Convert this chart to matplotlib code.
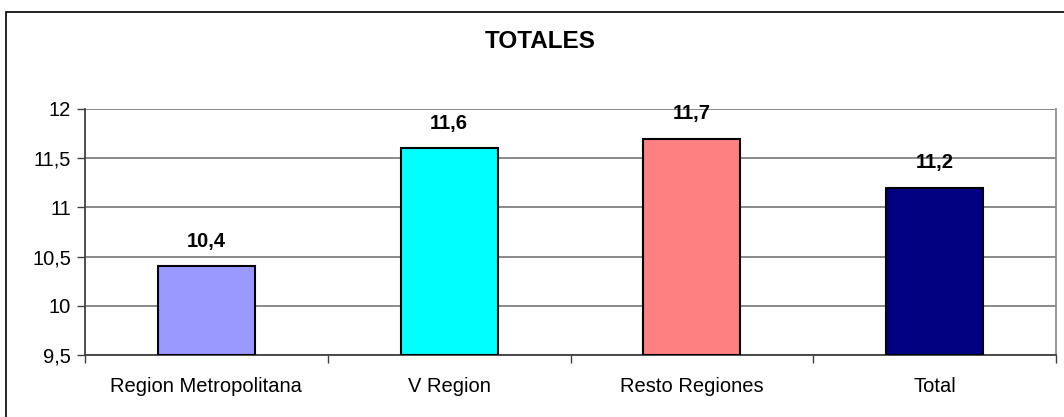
import matplotlib
matplotlib.use("Agg")
import matplotlib.pyplot as plt
from matplotlib.patches import Rectangle

categories = ["Region Metropolitana", "V Region", "Resto Regiones", "Total"]
values = [10.4, 11.6, 11.7, 11.2]
labels = ["10,4", "11,6", "11,7", "11,2"]
colors = ["#9999FF", "#00FFFF", "#FF8080", "#000080"]
yticks = [9.5, 10, 10.5, 11, 11.5, 12]
yticklabels = ["9,5", "10", "10,5", "11", "11,5", "12"]

plt.rcParams["font.family"] = ["Liberation Sans", "DejaVu Sans"]

fig = plt.figure(figsize=(10.64, 4.17), dpi=100)
ax = fig.add_axes([85 / 1064, 1 - 355 / 417, (1056 - 85) / 1064, (355 - 109) / 417])

x = list(range(len(categories)))
base = 9.5
ax.bar(x, [v - base for v in values], bottom=base, width=0.4, color=colors,
       edgecolor="black", linewidth=1.5, zorder=3)
for xi, v, lab in zip(x, values, labels):
    ax.annotate(lab, (xi, v), xytext=(0, 11), textcoords="offset points",
                ha="center", va="bottom", fontsize=14.5, fontweight="bold")

ax.set_xlim(-0.5, len(categories) - 0.5)
ax.set_ylim(9.5, 12)
ax.set_yticks(yticks)
ax.set_yticklabels(yticklabels, fontsize=14.5)
ax.set_xticks(x)
ax.set_xticklabels(categories, fontsize=14.5)
ax.set_xticks([i - 0.5 for i in range(len(categories) + 1)], minor=True)
ax.tick_params(axis="x", which="major", length=0, pad=16)
ax.tick_params(axis="x", which="minor", length=6, width=1, color="#404040")
ax.tick_params(axis="y", length=6, width=1, color="#404040", pad=4)
ax.yaxis.grid(True, color="#808080", linewidth=1.3, zorder=0)
ax.set_axisbelow(True)
ax.spines["top"].set_visible(False)
ax.spines["right"].set_color("#909090")
ax.spines["left"].set_color("#404040")
ax.spines["bottom"].set_color("#404040")
for s in ["left", "bottom", "right"]:
    ax.spines[s].set_linewidth(1.3)

fig.text(540 / 1064, 1 - 41 / 417, "TOTALES", ha="center", va="center",
         fontsize=17.5, fontweight="bold")

# outer chart border (right and bottom edges fall outside the image)
fig.add_artist(Rectangle((5.5 / 1064, -0.05), 1.1, 1 - 12 / 417 + 0.05,
                         transform=fig.transFigure, fill=False,
                         edgecolor="black", linewidth=1.2))

fig.savefig("out.png", dpi=100)
